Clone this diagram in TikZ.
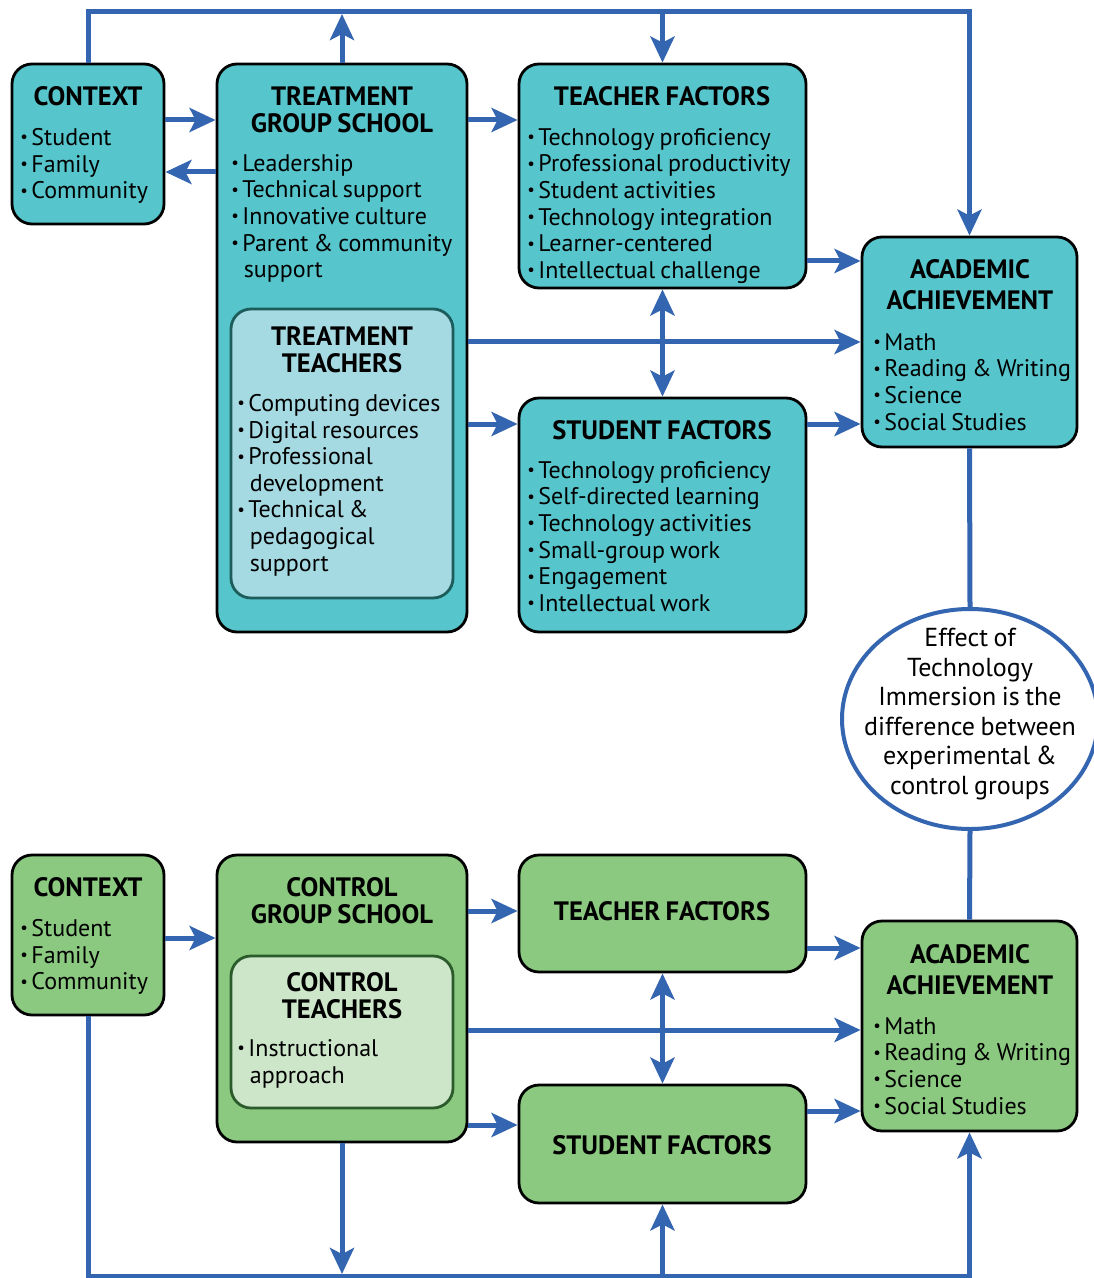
\documentclass[tikz,border=0pt]{standalone}
\usepackage{fontspec}
\setmainfont{PT Sans}[WordSpace=0.8]
\usepackage{graphicx}
\usetikzlibrary{arrows.meta,fit,shapes.geometric}
\definecolor{tealF}{HTML}{56C5CC}
\definecolor{ltealF}{HTML}{A6DAE3}
\definecolor{tealD}{HTML}{1C5C5A}
\definecolor{greenF}{HTML}{8AC97F}
\definecolor{lgreenF}{HTML}{CDE6C9}
\definecolor{greenD}{HTML}{2B5A2B}
\definecolor{arrowblue}{HTML}{3465B0}
\newcommand\bl{\makebox[0.46em][l]{\raisebox{0.22ex}{\scalebox{0.7}{\textbullet}}}}
\newcommand\ind{\hspace*{0.52em}}
\tikzset{
  box/.style={draw=black, line width=1.4pt, rounded corners=10pt, inner sep=0pt},
  tbox/.style={box, fill=tealF},
  gbox/.style={box, fill=greenF},
  ltbox/.style={box, draw=tealD, fill=ltealF},
  lgbox/.style={box, draw=greenD, fill=lgreenF},
  hd/.style={font=\fontsize{13.3}{13.5}\selectfont\bfseries, align=center, inner sep=0pt},
  hdtwo/.style={font=\fontsize{13.3}{15.5}\selectfont\bfseries, align=center, inner sep=0pt},
  bd/.style={font=\fontsize{12}{13.3}\selectfont, align=left, anchor=north west, inner sep=0pt},
  conn/.style={draw=arrowblue, line width=2.5pt},
  arr/.style={conn, -{Stealth[length=13pt,width=12pt,inset=3pt]}},
  darr/.style={conn, {Stealth[length=13pt,width=12pt,inset=3pt]}-{Stealth[length=13pt,width=12pt,inset=3pt]}},
}
\begin{document}
\begin{tikzpicture}[x=0.5pt,y=-0.5pt]
\useasboundingbox (0,0) rectangle (1093,1278);

% ---------- top: treatment ----------
\node[tbox, fit={(12,64) (164,224)}] (ctx) {};
\node[tbox, fit={(217,64) (467,632)}] (tgs) {};
\node[ltbox, fit={(231,309) (453,598)}] (tt) {};
\node[tbox, fit={(519,64) (806,288)}] (tf) {};
\node[tbox, fit={(519,398) (806,632)}] (sf) {};
\node[tbox, fit={(862,237) (1077,447)}] (aa) {};

% ---------- bottom: control ----------
\node[gbox, fit={(12,855) (164,1015)}] (ctxc) {};
\node[gbox, fit={(217,855) (467,1142)}] (cgs) {};
\node[lgbox, fit={(231,956) (453,1108)}] (ct) {};
\node[gbox, fit={(519,855) (806,972)}] (tfc) {};
\node[gbox, fit={(519,1085) (806,1203)}] (sfc) {};
\node[gbox, fit={(862,921) (1077,1131)}] (aac) {};

% ---------- ellipse ----------
\node[ellipse, draw=arrowblue, line width=2pt, fill=white, minimum width=128pt, minimum height=110pt,
      inner sep=0pt] (eff) at (970,719) {};
\node[align=center, inner sep=0pt, font=\fontsize{13}{14.8}\selectfont] (efft) at (970,714)
      {Effect of\\Technology\\Immersion is the\\difference between\\experimental \&\\control groups};

% ---------- headings ----------
\node[hd] (ctxh) at (88,96) {CONTEXT};
\node[hd] (tgsh) at (342,110) {TREATMENT\\GROUP SCHOOL};
\node[hd] (tth) at (342,350) {TREATMENT\\TEACHERS};
\node[hd] (tfh) at (662,96) {TEACHER FACTORS};
\node[hd] (sfh) at (662,430) {STUDENT FACTORS};
\node[hdtwo] (aah) at (970,285) {ACADEMIC\\ACHIEVEMENT};
\node[hd] (ctxch) at (88,887) {CONTEXT};
\node[hd] (cgsh) at (342,901) {CONTROL\\GROUP SCHOOL};
\node[hd] (cth) at (342,996) {CONTROL\\TEACHERS};
\node[hd] (tfch) at (662,911) {TEACHER FACTORS};
\node[hd] (sfch) at (662,1145) {STUDENT FACTORS};
\node[hdtwo] (aach) at (970,970) {ACADEMIC\\ACHIEVEMENT};

% ---------- bodies ----------
\node[bd] (ctxb) at (20,128) {\bl Student\\\bl Family\\\bl Community};
\node[bd] (tgsb) at (231,154) {\bl Leadership\\\bl Technical support\\\bl Innovative culture\\\bl Parent \& community\\\ind support};
\node[bd] (ttb) at (237,394) {\bl Computing devices\\\bl Digital resources\\\bl Professional\\\ind development\\\bl Technical \&\\\ind pedagogical\\\ind support};
\node[bd] (tfb) at (527,128) {\bl Technology proficiency\\\bl Professional productivity\\\bl Student activities\\\bl Technology integration\\\bl Learner-centered\\\bl Intellectual challenge};
\node[bd] (sfb) at (527,461) {\bl Technology proficiency\\\bl Self-directed learning\\\bl Technology activities\\\bl Small-group work\\\bl Engagement\\\bl Intellectual work};
\node[bd] (aab) at (873,333) {\bl Math\\\bl Reading \& Writing\\\bl Science\\\bl Social Studies};
\node[bd] (ctxcb) at (20,919) {\bl Student\\\bl Family\\\bl Community};
\node[bd] (ctb) at (237,1039) {\bl Instructional\\\ind approach};
\node[bd] (aacb) at (873,1017) {\bl Math\\\bl Reading \& Writing\\\bl Science\\\bl Social Studies};

% ---------- top connectors ----------
\draw[arr] (ctx.north) -- (ctx.north |- 0,12) -| (aa.north);
\draw[arr] (tgs.north) -- (tgs.north |- 0,14);
\draw[arr] (tf.north |- 0,12) -- (tf.north);
\draw[arr] (ctx.east |- 0,120) -- (tgs.west |- 0,120);
\draw[arr] (tgs.west |- 0,172) -- (ctx.east |- 0,172);
\draw[arr] (tgs.east |- 0,120) -- (tf.west |- 0,120);
\draw[arr] (tf.east |- 0,261) -- (aa.west |- 0,261);
\draw[arr] (tgs.east |- 0,342) -- (aa.west |- 0,342);
\draw[arr] (tgs.east |- 0,424) -- (sf.west |- 0,424);
\draw[arr] (sf.east |- 0,424) -- (aa.west |- 0,424);
\draw[darr] (tf.south) -- (sf.north);
\draw[conn] (aa.south) -- (eff.north);
\draw[conn] (eff.south) -- (aac.north);

% ---------- bottom connectors ----------
\draw[arr] (ctxc.south) -- (ctxc.south |- 0,1276) -| (aac.south);
\draw[arr] (cgs.south) -- (cgs.south |- 0,1274);
\draw[arr] (sfc.south |- 0,1276) -- (sfc.south);
\draw[arr] (ctxc.east |- 0,938) -- (cgs.west |- 0,938);
\draw[arr] (cgs.east |- 0,911) -- (tfc.west |- 0,911);
\draw[arr] (tfc.east |- 0,948) -- (aac.west |- 0,948);
\draw[arr] (cgs.east |- 0,1030) -- (aac.west |- 0,1030);
\draw[arr] (cgs.east |- 0,1125) -- (sfc.west |- 0,1125);
\draw[arr] (sfc.east |- 0,1111) -- (aac.west |- 0,1111);
\draw[darr] (tfc.south) -- (sfc.north);
\end{tikzpicture}
\end{document}
